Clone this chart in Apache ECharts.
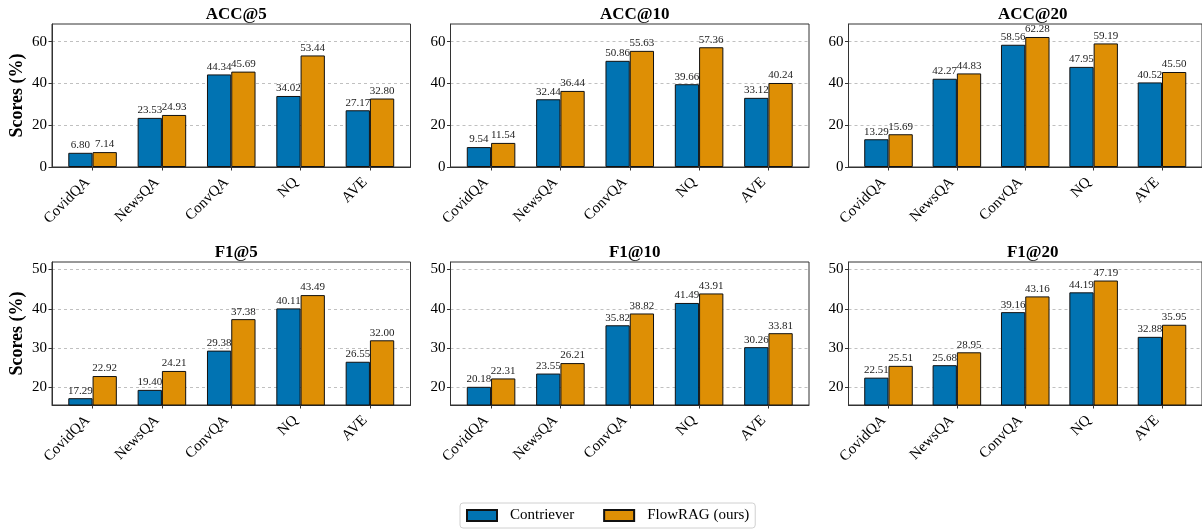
<!DOCTYPE html>
<html>
<head>
<meta charset="utf-8">
<script src="https://cdn.jsdelivr.net/npm/echarts@6/dist/echarts.min.js"></script>
<style>
  html, body { margin: 0; padding: 0; background: #fff; }
  #main { width: 1202px; height: 529px; }
</style>
</head>
<body>
<div id="main"></div>
<script>
// datasets on the x axis
const categories = ['CovidQA', 'NewsQA', 'ConvQA', 'NQ', 'AVE'];
const seriesNames = ['Contriever', 'FlowRAG (ours)'];

// ACC scores (%)
const acc5Contriever = [6.80, 23.53, 44.34, 34.02, 27.17];
const acc5FlowRAG = [7.14, 24.93, 45.69, 53.44, 32.80];
const acc10Contriever = [9.54, 32.44, 50.86, 39.66, 33.12];
const acc10FlowRAG = [11.54, 36.44, 55.63, 57.36, 40.24];
const acc20Contriever = [13.29, 42.27, 58.56, 47.95, 40.52];
const acc20FlowRAG = [15.69, 44.83, 62.28, 59.19, 45.50];

// F1 scores (%)
const f1at5Contriever = [17.29, 19.40, 29.38, 40.11, 26.55];
const f1at5FlowRAG = [22.92, 24.21, 37.38, 43.49, 32.00];
const f1at10Contriever = [20.18, 23.55, 35.82, 41.49, 30.26];
const f1at10FlowRAG = [22.31, 26.21, 38.82, 43.91, 33.81];
const f1at20Contriever = [22.51, 25.68, 39.16, 44.19, 32.88];
const f1at20FlowRAG = [25.51, 28.95, 43.16, 47.19, 35.95];

// y ticks and limits per row
const accTicks = [0, 20, 40, 60];
const f1Ticks = [20, 30, 40, 50];
const accRange = [0, 68.5];
const f1Range = [15.56, 51.9];

const panels = [
  { title: 'ACC@5', a: acc5Contriever, b: acc5FlowRAG, row: 0, col: 0 },
  { title: 'ACC@10', a: acc10Contriever, b: acc10FlowRAG, row: 0, col: 1 },
  { title: 'ACC@20', a: acc20Contriever, b: acc20FlowRAG, row: 0, col: 2 },
  { title: 'F1@5', a: f1at5Contriever, b: f1at5FlowRAG, row: 1, col: 0 },
  { title: 'F1@10', a: f1at10Contriever, b: f1at10FlowRAG, row: 1, col: 1 },
  { title: 'F1@20', a: f1at20Contriever, b: f1at20FlowRAG, row: 1, col: 2 }
];

const FONT = 'Liberation Serif';
const colors = ['#0173b2', '#de8f05'];
const gridLefts = [52, 450.5, 848.5];
const gridTops = [24, 262];
const gridW = 358.5;
const gridH = 143;
// x limits like matplotlib: bars of 0.35 each side + 5% margin
const xMin = -0.585, xMax = 4.585;
const barPx = gridW / (xMax - xMin) * 0.35;

const chart = echarts.init(document.getElementById('main'), null, { renderer: 'canvas' });

const grid = [], xAxis = [], yAxis = [], title = [], series = [];

panels.forEach((p, i) => {
  const left = gridLefts[p.col];
  const top = gridTops[p.row];
  const isAcc = p.row === 0;
  grid.push({
    left: left, top: top, width: gridW, height: gridH,
    show: true, borderColor: '#333', borderWidth: 1, backgroundColor: 'transparent'
  });
  title.push({
    text: p.title,
    left: left + gridW / 2,
    top: top - 23,
    textAlign: 'center',
    textStyle: { fontFamily: FONT, fontWeight: 'bold', fontSize: 17, color: '#000' }
  });
  xAxis.push({
    type: 'value', gridIndex: i, min: xMin, max: xMax,
    axisLine: { show: true, onZero: false, lineStyle: { color: '#333', width: 1 } },
    axisTick: { show: true, customValues: [0, 1, 2, 3, 4], length: 3.5, lineStyle: { color: '#333' } },
    axisLabel: {
      customValues: [0, 1, 2, 3, 4],
      formatter: v => categories[Math.round(v)],
      rotate: 45, margin: 8, padding: [0, 7, 0, 0],
      fontFamily: FONT, fontSize: 15, color: '#000'
    },
    splitLine: { show: false }
  });
  const ticks = isAcc ? accTicks : f1Ticks;
  const range = isAcc ? accRange : f1Range;
  yAxis.push({
    type: 'value', gridIndex: i, min: range[0], max: range[1],
    name: p.col === 0 ? 'Scores (%)' : '',
    nameLocation: 'middle', nameGap: 26,
    nameTextStyle: { fontFamily: FONT, fontWeight: 'bold', fontSize: 18, color: '#000' },
    axisLine: { show: true, onZero: false, lineStyle: { color: '#333', width: 1 } },
    axisTick: { show: true, customValues: ticks, length: 3.5, lineStyle: { color: '#333' } },
    axisLabel: {
      customValues: ticks, margin: 5,
      fontFamily: FONT, fontSize: 15, color: '#000'
    },
    splitLine: { show: true, lineStyle: { color: '#b0b0b0', width: 0.8, type: [3, 3] } }
  });
  [p.a, p.b].forEach((vals, k) => {
    series.push({
      name: seriesNames[k],
      type: 'bar',
      xAxisIndex: i, yAxisIndex: i,
      barWidth: barPx,
      barGap: '0%',
      data: vals.map((v, j) => [j, v]),
      itemStyle: { color: colors[k], borderColor: '#111', borderWidth: 1 },
      label: {
        show: true, position: 'top', distance: 2,
        formatter: d => d.value[1].toFixed(2),
        fontFamily: FONT, fontSize: 11, color: '#222'
      }
    });
  });
});

chart.setOption({
  animation: false,
  title: title,
  grid: grid,
  xAxis: xAxis,
  yAxis: yAxis,
  legend: {
    data: seriesNames,
    left: 460, top: 503,
    itemWidth: 30, itemHeight: 11, itemGap: 29,
    padding: [5, 6],
    borderColor: '#d0d0d0', borderWidth: 1, borderRadius: 3,
    icon: 'rect',
    textStyle: { fontFamily: FONT, fontSize: 15, color: '#000', padding: [0, 0, 0, 8] }
  },
  series: series
});
</script>
</body>
</html>
